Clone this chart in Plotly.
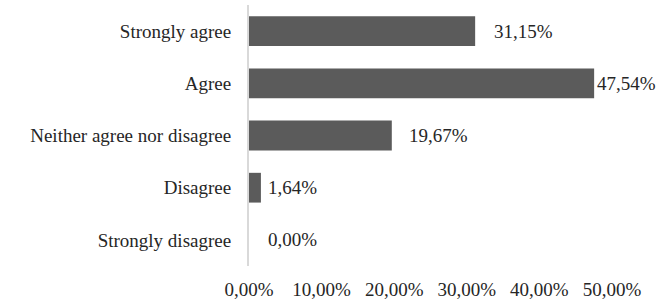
import plotly.graph_objects as go

categories = ["Strongly agree", "Agree", "Neither agree nor disagree", "Disagree", "Strongly disagree"]
values = [31.15, 47.54, 19.67, 1.64, 0.00]
tick_values = [0, 10, 20, 30, 40, 50]
tick_text = ["0,00%", "10,00%", "20,00%", "30,00%", "40,00%", "50,00%"]
label_shift = [17, 1, 15, 5, 17]

FONT = "Liberation Serif"
TEXT_COLOR = "#262626"
SIZE = 19

fig = go.Figure()
fig.add_trace(go.Bar(
    x=values, y=categories, orientation="h",
    marker=dict(color="#5b5b5b", line=dict(width=0)),
    hoverinfo="skip",
))

for cat, v, s in zip(categories, values, label_shift):
    fig.add_annotation(
        x=v, y=cat, xref="x", yref="y",
        text=f"{v:.2f}%".replace(".", ","),
        showarrow=False, xanchor="left", xshift=s,
        font=dict(family=FONT, size=SIZE, color=TEXT_COLOR),
    )

fig.update_layout(
    width=657, height=305,
    margin=dict(l=249, r=45, t=5, b=39, autoexpand=False),
    paper_bgcolor="white", plot_bgcolor="white",
    bargap=0.43,
    showlegend=False,
    font=dict(family=FONT, size=SIZE, color=TEXT_COLOR),
)
fig.update_xaxes(
    range=[0, 50], tickvals=tick_values, ticktext=tick_text,
    showgrid=False, zeroline=False, showline=False, ticks="",
    automargin=False, ticklabelstandoff=10,
    tickfont=dict(family=FONT, size=SIZE, color=TEXT_COLOR),
)
fig.update_yaxes(
    categoryorder="array", categoryarray=categories[::-1],
    showgrid=False, zeroline=False, automargin=False,
    showline=True, linecolor="#d9d9d9", linewidth=2,
    ticks="", ticklabelstandoff=12,
    tickfont=dict(family=FONT, size=SIZE, color=TEXT_COLOR),
)

fig.write_html(
    "out.html",
    config={"displayModeBar": False},
    post_script="document.body.style.margin='0';document.body.style.overflow='hidden';",
)
